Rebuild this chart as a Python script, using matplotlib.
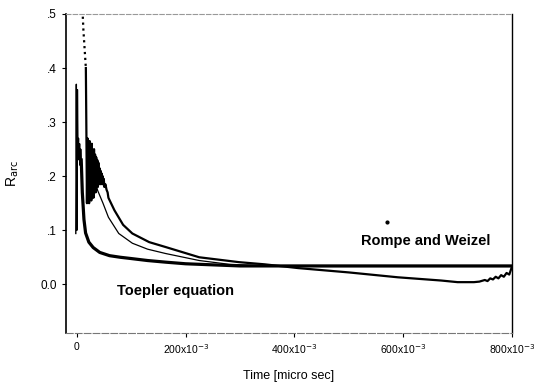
import matplotlib.pyplot as plt

plt.rcParams['font.family'] = ['Liberation Sans', 'DejaVu Sans']

# Toepler equation curve (lower, thick) - starts with thin spike
toepler_t = [-0.002, -0.001, 0.000, 0.001, 0.002, 0.003, 0.004, 0.005, 0.006, 0.007, 0.008,
             0.010, 0.013, 0.016, 0.022, 0.030, 0.042, 0.060, 0.080, 0.097, 0.130, 0.163,
             0.200, 0.250, 0.300, 0.400, 0.500, 0.600, 0.700, 0.800]
toepler_r = [0.094, 0.370, 0.100, 0.360, 0.250, 0.270, 0.230, 0.260, 0.220, 0.250, 0.230,
             0.170, 0.120, 0.095, 0.078, 0.068, 0.059, 0.053, 0.050, 0.048, 0.044, 0.041,
             0.038, 0.036, 0.034, 0.034, 0.034, 0.034, 0.034, 0.034]

# noisy upper curve (thick)
upper_t = [0.008, 0.012, 0.0165,
           0.0175, 0.0185, 0.0195, 0.0205, 0.0215, 0.0225, 0.0235, 0.0245, 0.0255, 0.0265,
           0.0275, 0.0285, 0.0295, 0.0305, 0.0315, 0.0325, 0.0335, 0.0345, 0.0355, 0.0365,
           0.0375, 0.0385, 0.0395, 0.0405, 0.0415, 0.0425, 0.0435, 0.0445, 0.0455, 0.0465,
           0.0475, 0.0485, 0.0495, 0.0505, 0.0525, 0.0545, 0.0565,
           0.058, 0.069, 0.085, 0.102, 0.133, 0.163, 0.225, 0.298, 0.345, 0.407, 0.500,
           0.590, 0.630, 0.670, 0.700, 0.730, 0.740, 0.750, 0.755, 0.760, 0.765, 0.770,
           0.775, 0.780, 0.785, 0.790, 0.795, 0.800]
upper_r = [0.560, 0.470, 0.400,
           0.280, 0.150, 0.270, 0.160, 0.260, 0.150, 0.265, 0.170, 0.250, 0.155,
           0.260, 0.180, 0.245, 0.160, 0.250, 0.190, 0.240, 0.170, 0.235, 0.200,
           0.230, 0.180, 0.225, 0.190, 0.215, 0.185, 0.210, 0.190, 0.205, 0.185,
           0.200, 0.190, 0.195, 0.180, 0.185, 0.175, 0.170,
           0.160, 0.137, 0.110, 0.094, 0.078, 0.069, 0.050, 0.041, 0.037, 0.030, 0.022,
           0.013, 0.010, 0.007, 0.004, 0.004, 0.005, 0.008, 0.006, 0.011, 0.009, 0.014,
           0.011, 0.017, 0.014, 0.021, 0.018, 0.033]

# thin middle curve
middle_t = [0.030, 0.035, 0.038, 0.048, 0.058, 0.077, 0.102, 0.130, 0.163, 0.225, 0.280,
            0.350, 0.450, 0.600, 0.800]
middle_r = [0.210, 0.187, 0.174, 0.150, 0.124, 0.094, 0.076, 0.065, 0.057, 0.044, 0.037,
            0.034, 0.033, 0.033, 0.033]

xticks = [0, 0.2, 0.4, 0.6, 0.8]
xlabels = ['0', r'200x10$^{-3}$', r'400x10$^{-3}$', r'600x10$^{-3}$', r'800x10$^{-3}$']
yticks = [0.0, 0.1, 0.2, 0.3, 0.4, 0.5]
ylabels = ['0.0', '.1', '.2', '.3', '.4', '.5']

fig = plt.figure(figsize=(5.34, 3.88), dpi=100)
ax = fig.add_axes([0.1236, 0.1418, 0.8352, 0.8222])

ax.plot(toepler_t[:11], toepler_r[:11], color='black', lw=1.0)
ax.plot(toepler_t[10:], toepler_r[10:], color='black', lw=2.3)
ax.plot(upper_t[:3], upper_r[:3], color='black', lw=1.6, linestyle=':')
ax.plot(upper_t[2:], upper_r[2:], color='black', lw=1.6)
ax.plot(middle_t, middle_r, color='black', lw=0.9)

ax.plot([0.570], [0.115], marker='o', ms=2, color='black')
ax.text(0.641, 0.081, 'Rompe and Weizel', fontsize=10.5, fontweight='bold', ha='center', va='center')
ax.text(0.073, -0.012, 'Toepler equation', fontsize=10.5, fontweight='bold', ha='left', va='center')

ax.set_xlim(-0.02, 0.8)
ax.set_ylim(-0.09, 0.5)
ax.set_xticks(xticks)
ax.set_xticklabels(xlabels, fontsize=7.5)
ax.set_yticks(yticks)
ax.set_yticklabels(ylabels, fontsize=8.5)
ax.tick_params(direction='out', length=3, width=0.8)

ax.spines['top'].set_color('#999999')
ax.spines['top'].set_linestyle((0, (4, 2)))
ax.spines['bottom'].set_color('#777777')
ax.spines['bottom'].set_linestyle((0, (6, 2)))
ax.spines['left'].set_linewidth(1.2)
ax.spines['right'].set_linewidth(1.0)

ax.set_xlabel('Time [micro sec]', fontsize=9, labelpad=10)
ax.set_ylabel(r'R$_{\rm arc}$', fontsize=10, labelpad=14)

fig.savefig('out.png', dpi=100)
